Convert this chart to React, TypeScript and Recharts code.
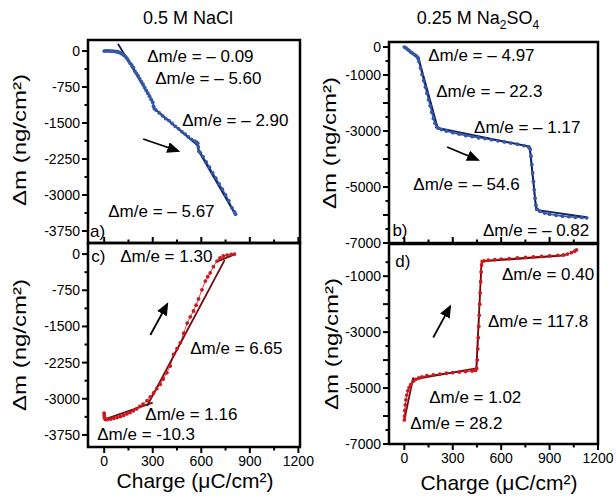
import React from "react";
import { ComposedChart, Line, XAxis, YAxis, ReferenceDot } from "recharts";

// ---- data (charge in µC/cm², mass change in ng/cm²) ----
const NACL_OX = [
  [0, 0], [10, 2], [20, 3], [30, 2], [40, 0], [50, -3], [60, -6], [70, -10], [80, -15],
  [90, -25], [100, -40], [110, -60], [120, -80], [130, -110], [140, -150], [150, -200],
  [160, -250], [170, -290], [180, -340], [190, -420], [200, -470], [210, -520], [220, -580],
  [230, -640], [240, -690], [250, -760], [260, -820], [270, -880], [280, -940], [290, -1010],
  [300, -1070], [305, -1150], [310, -1200], [320, -1230], [340, -1290], [360, -1350],
  [380, -1410], [400, -1450], [420, -1510], [440, -1570], [460, -1620], [480, -1680],
  [500, -1730], [520, -1790], [540, -1840], [560, -1880], [570, -1900], [578, -1920],
  [582, -2000], [586, -2090], [595, -2120], [610, -2200], [630, -2310], [650, -2420],
  [670, -2540], [690, -2650], [710, -2770], [730, -2880], [750, -3000], [770, -3120],
  [790, -3270], [805, -3350], [812, -3400],
];
const NACL_OX_FITS = [
  [[0, 5], [90, -3]],
  [[85, 150], [305, -1082]],
  [[305, -1180], [578, -1972]],
  [[578, -1972], [583, -2080]],
  [[583, -2080], [812, -3420]],
];

const SULF_OX = [
  [0, 0], [10, -30], [20, -80], [30, -130], [40, -180], [50, -220], [60, -260], [70, -300],
  [80, -350], [85, -400], [90, -520], [100, -750], [110, -980], [120, -1200], [130, -1430],
  [140, -1650], [150, -1880], [160, -2100], [170, -2330], [180, -2550], [190, -2720],
  [200, -2850], [210, -2900], [230, -2950], [260, -3000], [300, -3060], [340, -3110],
  [380, -3160], [420, -3200], [460, -3240], [500, -3270], [540, -3310], [580, -3350],
  [620, -3390], [660, -3430], [700, -3470], [740, -3520], [770, -3570], [780, -3650],
  [785, -3900], [790, -4200], [795, -4500], [800, -4800], [805, -5100], [810, -5400],
  [815, -5650], [825, -5800], [840, -5870], [870, -5930], [900, -5970], [940, -6010],
  [980, -6040], [1020, -6060], [1060, -6080], [1100, -6090], [1130, -6100],
];
const SULF_OX_FITS = [
  [[0, 20], [85, -400]],
  [[85, -330], [210, -2950]],
  [[200, -2880], [780, -3560]],
  [[776, -3560], [818, -5850]],
  [[815, -5820], [1130, -6080]],
];

const NACL_RED = [
  [0, -3300], [0, -3350], [2, -3400], [8, -3430], [20, -3430], [40, -3420], [60, -3405],
  [80, -3390], [100, -3370], [120, -3345], [140, -3315], [160, -3285], [180, -3250],
  [200, -3210], [220, -3160], [240, -3110], [265, -3040], [285, -2960], [305, -2880],
  [325, -2790], [346, -2700], [365, -2590], [387, -2460], [408, -2320], [429, -2080],
  [450, -1960], [470, -1840], [492, -1640], [513, -1430], [532, -1300], [552, -1180],
  [568, -1060], [583, -930], [604, -740], [625, -560], [640, -470], [655, -390],
  [675, -260], [697, -145], [716, -80], [736, -40], [760, -20], [785, -5], [805, 0],
];
const NACL_RED_FITS = [
  [[0, -3320], [10, -3423]],
  [[8, -3420], [300, -3080]],
  [[265, -3150], [745, -120]],
  [[700, -150], [810, 0]],
];

const SULF_RED = [
  [0, -6140], [1, -6000], [3, -5800], [6, -5600], [10, -5420], [15, -5250], [22, -5100],
  [30, -4980], [40, -4880], [55, -4760], [70, -4690], [90, -4640], [110, -4600],
  [140, -4560], [180, -4530], [220, -4500], [260, -4470], [300, -4450], [340, -4430],
  [380, -4410], [420, -4390], [440, -4370], [448, -4300], [452, -4000], [455, -3600],
  [458, -3200], [461, -2800], [464, -2400], [467, -2000], [470, -1600], [473, -1200],
  [476, -850], [479, -600], [483, -470], [495, -450], [520, -430], [560, -410],
  [600, -390], [650, -370], [700, -350], [750, -330], [800, -310], [850, -290],
  [900, -275], [950, -255], [985, -240], [1010, -210], [1035, -160], [1055, -110], [1067, -60],
];
const SULF_RED_FITS = [
  [[2, -6100], [55, -4620]],
  [[50, -4700], [445, -4300]],
  [[445, -4420], [478, -530]],
  [[478, -470], [1000, -260]],
];

// arrows: [tail, head]
const ARROW_A = [[241, -1833], [458, -2083]];
const ARROW_B = [[265, -3570], [457, -4034]];
const ARROW_C = [[285, -1677], [390, -1035]];
const ARROW_D = [[179, -3194], [284, -2079]];

// annotations: [x, y, text]
const NOTES_A: [number, number, string][] = [
  [266, -104, "Δm/e = – 0.09"],
  [315, -562, "Δm/e = – 5.60"],
  [482, -1437, "Δm/e = – 2.90"],
  [25, -3333, "Δm/e = – 5.67"],
  [-87, -3750, "a)"],
];
const NOTES_B: [number, number, string][] = [
  [148, -286, "Δm/e = – 4.97"],
  [197, -1571, "Δm/e = – 22.3"],
  [432, -2856, "Δm/e = – 1.17"],
  [56, -4891, "Δm/e = – 54.6"],
  [487, -6533, "Δm/e = – 0.82"],
  [-74, -6533, "b)"],
];
const NOTES_C: [number, number, string][] = [
  [-80, -41, "c)"],
  [99, -41, "Δm/e = 1.30"],
  [532, -1946, "Δm/e = 6.65"],
  [254, -3312, "Δm/e = 1.16"],
  [-43, -3726, "Δm/e = -10.3"],
];
const NOTES_D: [number, number, string][] = [
  [-56, -460, "d)"],
  [605, -928, "Δm/e = 0.40"],
  [518, -2619, "Δm/e = 117.8"],
  [154, -5316, "Δm/e = 1.02"],
  [37, -6252, "Δm/e = 28.2"],
];

// ticks
const X_TICKS = [0, 150, 300, 450, 600, 750, 900, 1050, 1200];
const X_LABELS = [0, 300, 600, 900, 1200];
const NACL_Y_TICKS = [0, -375, -750, -1125, -1500, -1875, -2250, -2625, -3000, -3375, -3750];
const NACL_Y_LABELS = [0, -750, -1500, -2250, -3000, -3750];
const SULF_Y_TICKS_B = [0, -500, -1000, -1500, -2000, -2500, -3000, -3500, -4000, -4500, -5000, -5500, -6000, -6500, -7000];
const SULF_Y_MAJOR = [0, -1000, -2000, -3000, -4000, -5000, -6000, -7000];
const SULF_Y_LABELS_B = [0, -1000, -3000, -5000, -7000];
const SULF_Y_TICKS_D = [-500, -1000, -1500, -2000, -2500, -3000, -3500, -4000, -4500, -5000, -5500, -6000, -6500, -7000];
const SULF_Y_LABELS_D = [-1000, -3000, -5000, -7000];

const BLUE_DOT = "#3458a6";
const BLUE_LINE = "#101d62";
const RED_DOT = "#cc1820";
const RED_LINE = "#720a0d";
const FONT = "'Liberation Sans', Arial, sans-serif";

const toPts = (arr: number[][]) => arr.map(([x, y]) => ({ x, y }));

type Rect = { x: number; y: number; w: number; h: number };

const PLOT_A: Rect = { x: 88, y: 40, w: 212, h: 203 };
const PLOT_C: Rect = { x: 88, y: 243, w: 212, h: 204 };
const PLOT_B: Rect = { x: 389, y: 42, w: 209, h: 201 };
const PLOT_D: Rect = { x: 389, y: 244, w: 209, h: 200 };

interface PanelProps {
  plot: Rect;
  xDomain: [number, number];
  yDomain: [number, number];
  yTicks: number[];
  yMajor: number[];
  yLabels: number[];
  bottomLabels: boolean;
  data: number[][];
  fits: number[][][];
  arrow: number[][];
  notes: [number, number, string][];
  dotColor: string;
  lineColor: string;
  dataLine: number;
}

const YW = 60;
const MT = 10;
const MR = 22;

function Panel(p: PanelProps) {
  const xh = p.bottomLabels ? 30 : 2;
  const mb = 14;
  const width = YW + p.plot.w + MR;
  const height = MT + p.plot.h + xh + mb;

  const yTick = (t: any) => {
    const v = t.payload.value;
    const major = p.yMajor.includes(v);
    const len = major ? 6 : 3.5;
    return (
      <g>
        <path d={`M${t.x},${t.y}H${t.x - len}`} stroke="#000" strokeWidth={2} fill="none" />
        {p.yLabels.includes(v) && (
          <text x={t.x - 8} y={t.y} dy="0.35em" textAnchor="end" fontSize={14} fontFamily={FONT} fill="#000">
            {v}
          </text>
        )}
      </g>
    );
  };

  const xTick = (t: any) => {
    const v = t.payload.value;
    const major = X_LABELS.includes(v);
    const len = major ? 6 : 3.5;
    const dir = p.bottomLabels ? 1 : -1;
    return (
      <g>
        <path d={`M${t.x},${t.y}V${t.y + dir * len}`} stroke="#000" strokeWidth={2} fill="none" />
        {p.bottomLabels && major && (
          <text x={t.x} y={t.y + 8} dy="0.75em" textAnchor="middle" fontSize={14} fontFamily={FONT} fill="#000">
            {v}
          </text>
        )}
      </g>
    );
  };

  return (
    <div style={{ position: "absolute", left: p.plot.x - YW, top: p.plot.y - MT }}>
      <ComposedChart width={width} height={height} margin={{ top: MT, right: MR, bottom: mb, left: 0 }}>
        <XAxis
          type="number"
          dataKey="x"
          domain={p.xDomain}
          ticks={X_TICKS}
          interval={0}
          allowDataOverflow
          height={xh}
          tickSize={0}
          tickMargin={0}
          tickLine={false}
          tick={xTick}
          axisLine={false}
        />
        <YAxis
          type="number"
          dataKey="y"
          domain={p.yDomain}
          ticks={p.yTicks}
          interval={0}
          allowDataOverflow
          width={YW}
          tickSize={0}
          tickMargin={0}
          tickLine={false}
          tick={yTick}
          axisLine={false}
        />
        <Line
          data={toPts(p.data)}
          dataKey="y"
          type="linear"
          stroke={p.dotColor}
          strokeWidth={p.dataLine}
          dot={{ r: 1.9, fill: p.dotColor, stroke: "none" }}
          activeDot={false}
          isAnimationActive={false}
        />
        {p.fits.map((seg, i) => (
          <Line
            key={i}
            data={toPts(seg)}
            dataKey="y"
            type="linear"
            stroke={p.lineColor}
            strokeWidth={1.8}
            dot={false}
            activeDot={false}
            isAnimationActive={false}
          />
        ))}
        <Line
          data={toPts(p.arrow)}
          dataKey="y"
          type="linear"
          stroke="#000"
          strokeWidth={1.8}
          dot={false}
          activeDot={false}
          markerEnd="url(#arrowHead)"
          isAnimationActive={false}
        />
        {p.notes.map(([x, y, text], i) => (
          <ReferenceDot
            key={i}
            x={x}
            y={y}
            r={0}
            ifOverflow="visible"
            shape={(s: any) => (
              <text x={s.cx} y={s.cy} dy="0.35em" fontSize={17} fontFamily={FONT} fill="#000">
                {text}
              </text>
            )}
          />
        ))}
      </ComposedChart>
    </div>
  );
}

export default function App() {
  return (
    <div style={{ position: "absolute", left: 0, top: 0, width: 616, height: 498, background: "#fff", fontFamily: FONT }}>
      <svg width={0} height={0} style={{ position: "absolute" }}>
        <defs>
          <marker id="arrowHead" markerUnits="userSpaceOnUse" markerWidth={13} markerHeight={11} refX={11} refY={5.5} orient="auto">
            <path d="M0,0 L13,5.5 L0,11 z" fill="#000" />
          </marker>
        </defs>
      </svg>
      <Panel
        plot={PLOT_A}
        xDomain={[-100, 1210]}
        yDomain={[-4000, 230]}
        yTicks={NACL_Y_TICKS}
        yMajor={NACL_Y_LABELS}
        yLabels={NACL_Y_LABELS}
        bottomLabels={false}
        data={NACL_OX}
        fits={NACL_OX_FITS}
        arrow={ARROW_A}
        notes={NOTES_A}
        dotColor={BLUE_DOT}
        lineColor={BLUE_LINE}
        dataLine={1.6}
      />
      <Panel
        plot={PLOT_C}
        xDomain={[-100, 1210]}
        yDomain={[-4000, 230]}
        yTicks={NACL_Y_TICKS}
        yMajor={NACL_Y_LABELS}
        yLabels={NACL_Y_LABELS}
        bottomLabels
        data={NACL_RED}
        fits={NACL_RED_FITS}
        arrow={ARROW_C}
        notes={NOTES_C}
        dotColor={RED_DOT}
        lineColor={RED_LINE}
        dataLine={0.8}
      />
      <Panel
        plot={PLOT_B}
        xDomain={[-95, 1200]}
        yDomain={[-7000, 180]}
        yTicks={SULF_Y_TICKS_B}
        yMajor={SULF_Y_MAJOR}
        yLabels={SULF_Y_LABELS_B}
        bottomLabels={false}
        data={SULF_OX}
        fits={SULF_OX_FITS}
        arrow={ARROW_B}
        notes={NOTES_B}
        dotColor={BLUE_DOT}
        lineColor={BLUE_LINE}
        dataLine={1.6}
      />
      <Panel
        plot={PLOT_D}
        xDomain={[-95, 1200]}
        yDomain={[-7000, 150]}
        yTicks={SULF_Y_TICKS_D}
        yMajor={SULF_Y_MAJOR}
        yLabels={SULF_Y_LABELS_D}
        bottomLabels
        data={SULF_RED}
        fits={SULF_RED_FITS}
        arrow={ARROW_D}
        notes={NOTES_D}
        dotColor={RED_DOT}
        lineColor={RED_LINE}
        dataLine={1}
      />
      <svg width={616} height={498} style={{ position: "absolute", left: 0, top: 0, pointerEvents: "none" }}>
        {[PLOT_A, PLOT_B, PLOT_C, PLOT_D].map((r, i) => (
          <rect key={i} x={r.x} y={r.y} width={r.w} height={r.h} fill="none" stroke="#000" strokeWidth={2.5} />
        ))}
        <g fontFamily={FONT} fill="#000">
          <text x={188} y={18} dy="0.35em" textAnchor="middle" fontSize={18}>0.5 M NaCl</text>
          <text x={478} y={18} dy="0.35em" textAnchor="middle" fontSize={18}>
            0.25 M Na<tspan fontSize={12} dy={5}>2</tspan>
            <tspan dy={-5}>SO</tspan>
            <tspan fontSize={12} dy={5}>4</tspan>
          </text>
          <text x={195} y={481} dy="0.35em" textAnchor="middle" fontSize={21}>Charge (μC/cm²)</text>
          <text x={499} y={483} dy="0.35em" textAnchor="middle" fontSize={21}>Charge (μC/cm²)</text>
          {[
            [19, 140],
            [19, 345],
            [329, 143],
            [331, 344],
          ].map(([x, y], i) => (
            <text
              key={i}
              x={x}
              y={y}
              dy="0.35em"
              textAnchor="middle"
              fontSize={19}
              textLength={132}
              lengthAdjust="spacingAndGlyphs"
              transform={`rotate(-90 ${x} ${y})`}
            >
              Δm (ng/cm²)
            </text>
          ))}
        </g>
      </svg>
    </div>
  );
}
